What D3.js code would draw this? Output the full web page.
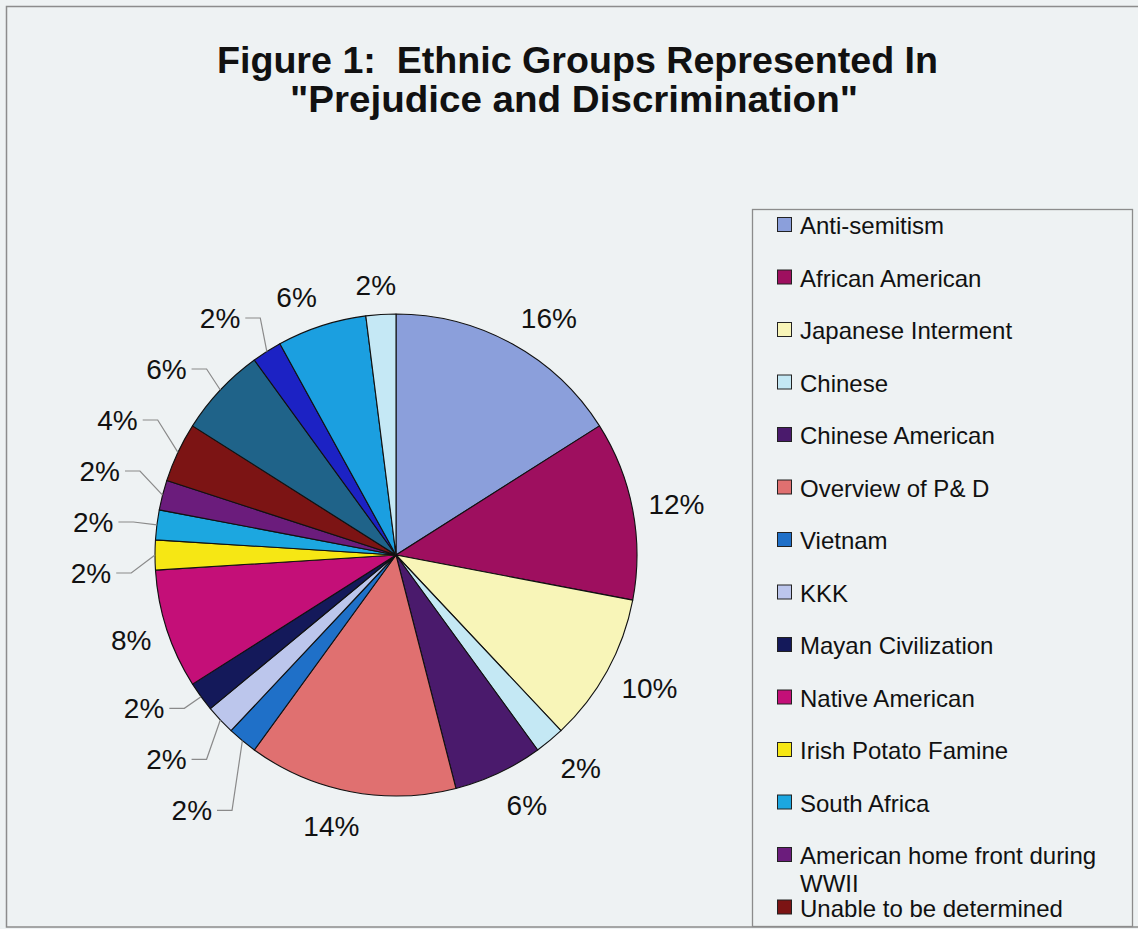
<!DOCTYPE html>
<html>
<head>
<meta charset="utf-8">
<script src="https://cdn.jsdelivr.net/npm/d3@7"></script>
<style>
  html, body { margin: 0; padding: 0; background: #eef2f3; }
  svg { display: block; font-family: Arial, "Liberation Sans", sans-serif; }
</style>
</head>
<body>
<svg id="chart" width="1138" height="929"></svg>
<script>
// Share of each ethnic group (percent), clockwise from 12 o'clock
const values = [16, 12, 10, 2, 6, 14, 2, 2, 2, 8, 2, 2, 2, 4, 6, 2, 6, 2];

// Legend entries (the legend box only has room for the first fourteen)
const categories = [
  "Anti-semitism",
  "African American",
  "Japanese Interment",
  "Chinese",
  "Chinese American",
  "Overview of P& D",
  "Vietnam",
  "KKK",
  "Mayan Civilization",
  "Native American",
  "Irish Potato Famine",
  "South Africa",
  "American home front during WWII",
  "Unable to be determined"
];

const sliceColors = [
  "#8b9fdb", "#9e0f5f", "#f8f5b8", "#c4e8f4", "#4a1a6c", "#e07070",
  "#1f70c8", "#bcc6ec", "#14195a", "#c40f78", "#f6e714", "#1ca7e0",
  "#6b1c7c", "#7c1414", "#1f6389", "#1c22c4", "#1b9fe0", "#c5e8f5"
];

const titleLines = ["Figure 1:  Ethnic Groups Represented In", "\"Prejudice and Discrimination\""];

const svg = d3.select("#chart");
const W = 1138, H = 929;

// background and outer frame
svg.append("rect").attr("width", W).attr("height", H).attr("fill", "#eef2f3");
svg.append("rect")
  .attr("x", 6.5).attr("y", 6.5).attr("width", 1140).attr("height", 920.5)
  .attr("fill", "none").attr("stroke", "#8c8c8c").attr("stroke-width", 1.5);

// title
const titleSpecs = [
  { x0: 217, x1: 938, base: 73 },
  { x0: 290, x1: 858, base: 112 }
];
titleLines.forEach((t, i) => {
  svg.append("text")
    .attr("x", titleSpecs[i].x0)
    .attr("y", titleSpecs[i].base)
    .attr("xml:space", "preserve")
    .style("white-space", "pre")
    .attr("font-size", 36)
    .attr("font-weight", "bold")
    .attr("fill", "#111")
    .attr("textLength", titleSpecs[i].x1 - titleSpecs[i].x0)
    .attr("lengthAdjust", "spacingAndGlyphs")
    .text(t);
});

// pie
const cx = 396, cy = 555, R = 241;
const g = svg.append("g").attr("transform", `translate(${cx},${cy})`);
const arcs = d3.pie().sort(null).value(d => d)(values);
const arc = d3.arc().innerRadius(0).outerRadius(R);

g.selectAll("path.slice")
  .data(arcs)
  .join("path")
  .attr("class", "slice")
  .attr("d", arc)
  .attr("fill", (d, i) => sliceColors[i])
  .attr("stroke", "#111")
  .attr("stroke-width", 1.1)
  .attr("stroke-linejoin", "round");

// percentage labels
const deg = Math.PI / 180;
const labelFont = 28;
const labels = arcs.map((a, i) => {
  const mid = (a.startAngle + a.endAngle) / 2;
  const leader = a.data <= 6 && mid > 200 * deg && mid < 335 * deg;
  return {
    i, mid, leader, text: a.data + "%",
    x: Math.sin(mid) * (R + 37) - 27,
    y: -Math.cos(mid) * (R + 59),
    y0: null
  };
});

const lg = g.append("g");
const txt = lg.selectAll("text.pct")
  .data(labels)
  .join("text")
  .attr("class", "pct")
  .attr("text-anchor", "middle")
  .attr("dy", "0.36em")
  .attr("font-size", labelFont)
  .attr("fill", "#111")
  .text(d => d.text);

// outside-end placement: the label box sits just beyond the rim
txt.each(function (d) {
  d.w = this.getComputedTextLength();
  if (d.leader) return;
  const re = R + 14;
  const s = Math.sin(d.mid), c = Math.cos(d.mid);
  const kx = Math.max(-1, Math.min(1, 3 * s));
  const halfH = c < 0 ? 21 : 16;
  d.x = s * re + kx * (d.w / 2 + 2);
  d.y = -c * re - c * halfH;
});

// spread crowded leader labels vertically (centred block relaxation)
const gap = 51;
const stacked = labels.filter(l => l.leader).sort((a, b) => a.y - b.y);
let blocks = [];
stacked.forEach(l => {
  blocks.push({ items: [l], ideal: l.y });
  while (blocks.length > 1) {
    const b = blocks[blocks.length - 1], p = blocks[blocks.length - 2];
    const pTop = p.ideal - (p.items.length - 1) * gap / 2;
    const pBottom = pTop + (p.items.length - 1) * gap;
    const bTop = b.ideal - (b.items.length - 1) * gap / 2;
    if (bTop - pBottom >= gap) break;
    const items = p.items.concat(b.items);
    const ideal = d3.mean(items, d => d.y);
    blocks.splice(blocks.length - 2, 2, { items, ideal });
  }
});
// labels may not rise above the top of the pie
const minY = -R + 4;
let prevBottom = -Infinity;
blocks.forEach(b => {
  let top = b.ideal - (b.items.length - 1) * gap / 2;
  top = Math.max(top, minY, prevBottom + gap);
  b.items.forEach((l, k) => { l.y0 = top + k * gap; });
  prevBottom = top + (b.items.length - 1) * gap;
});
labels.forEach(l => { if (l.y0 === null) l.y0 = l.y; });

txt.attr("x", d => d.x).attr("y", d => d.y0);

// leader lines for the moved labels
labels.filter(d => d.leader).forEach(d => {
  const x0 = d.x + d.w / 2 + 5;
  const x1 = x0 + 15;
  const ex = Math.sin(d.mid) * R, ey = -Math.cos(d.mid) * R;
  lg.append("polyline")
    .attr("points", `${x0},${d.y0} ${x1},${d.y0} ${ex},${ey}`)
    .attr("fill", "none")
    .attr("stroke", "#8a8a8a")
    .attr("stroke-width", 1.2);
});

// legend
const legend = svg.append("g");
legend.append("rect")
  .attr("x", 752.5).attr("y", 209.5).attr("width", 380).attr("height", 717)
  .attr("fill", "#eef2f3").attr("stroke", "#8c8c8c").attr("stroke-width", 1.3);

const rowStep = 52.5, firstBase = 234, textX = 800, maxW = 322;
categories.forEach((name, i) => {
  const base = firstBase + i * rowStep;
  legend.append("rect")
    .attr("x", 777.5).attr("y", base - 16.5).attr("width", 14).attr("height", 14)
    .attr("fill", sliceColors[i]).attr("stroke", "#222").attr("stroke-width", 1);
  const t = legend.append("text")
    .attr("x", textX).attr("y", base)
    .attr("font-size", 24).attr("fill", "#111");
  // wrap long names onto a second line
  const words = name.split(" ");
  let line = [], lineNo = 0;
  let ts = t.append("tspan").attr("x", textX).attr("y", base);
  words.forEach(wd => {
    line.push(wd);
    ts.text(line.join(" "));
    if (ts.node().getComputedTextLength() > maxW && line.length > 1) {
      line.pop();
      ts.text(line.join(" "));
      line = [wd];
      lineNo++;
      ts = t.append("tspan").attr("x", textX).attr("y", base + lineNo * 28).text(wd);
    }
  });
});
</script>
</body>
</html>
